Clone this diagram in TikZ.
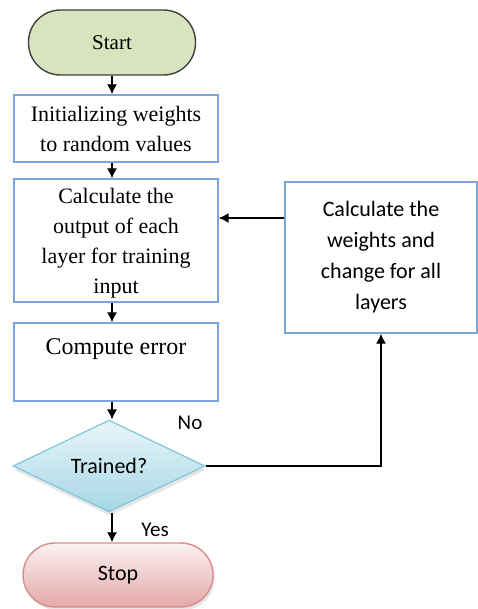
\documentclass[tikz,border=0pt]{standalone}
\usepackage{fontspec}
\setmainfont{Liberation Serif}
\newfontfamily\calib{Carlito}
\usetikzlibrary{shapes.geometric,arrows.meta,shadows}
\definecolor{boxblue}{HTML}{7AA6DA}
\definecolor{startgreen}{HTML}{D7E4BD}
\definecolor{decline}{HTML}{7FC6D8}
\definecolor{stopline}{HTML}{D98C8C}
\definecolor{stopfill}{HTML}{E4A8A8}
\definecolor{decfill}{HTML}{A6D7E5}
\begin{document}
\begin{tikzpicture}[x=1pt,y=-1pt,
    stepbox/.style={draw=boxblue, line width=1.4pt, fill=white, align=center,
        inner sep=0pt, font=\fontsize{22}{30}\selectfont},
    terminal/.style={rounded corners=32pt, line width=1.4pt, inner sep=0pt},
    arr/.style={line width=1.3pt, -{Latex[length=10pt,width=10pt]}},
    lbl/.style={font=\calib\fontsize{21}{25}\selectfont}]
            \useasboundingbox (0,0) rectangle (478,609);

            \node[terminal, draw=black!75, fill=startgreen, minimum width=167pt, minimum height=65pt,
                font=\fontsize{21}{25}\selectfont] (start) at (112,42.5) {Start};
            \node[stepbox, minimum width=204pt, minimum height=67pt, text depth=-6pt] (init) at (116,128.5)
                {Initializing weights\\to random values};
            \node[stepbox, minimum width=204pt, minimum height=123pt, text depth=-12pt] (calc) at (116,240.5)
                {Calculate the\\output of each\\layer for training\\input};
            \node[stepbox, minimum width=204pt, minimum height=78pt, text depth=30pt,
                font=\fontsize{24}{30}\selectfont] (comp) at (116,362) {Compute error};
            \node[diamond, draw=decline, line width=1.2pt, top color=decfill!25, bottom color=decfill,
                drop shadow={opacity=0.2, shadow xshift=1pt, shadow yshift=-4pt},
                minimum width=192pt, minimum height=88pt, inner sep=0pt,
                font=\calib\fontsize{22}{26}\selectfont] (dec) at (109,466) {Trained?};
            \node[terminal, draw=stopline, top color=stopfill!15, bottom color=stopfill,
                drop shadow={opacity=0.2, shadow xshift=2pt, shadow yshift=-3pt},
                minimum width=190pt, minimum height=64pt,
                font=\calib\fontsize{22}{26}\selectfont] (stop) at (118,575) {Stop};
            \node[stepbox, minimum width=192pt, minimum height=151pt,
                font=\calib\fontsize{22}{31}\selectfont] (upd) at (381,257.5)
                {Calculate the\\weights and\\change for all\\layers};

            \node[lbl] (no) at (190,423) {No};
            \node[lbl] (yes) at (155,530) {Yes};

            \draw[arr] (start.south) -- (start.south |- init.north);
            \draw[arr] (init.south -| start) -- (calc.north -| start);
            \draw[arr] (calc.south -| start) -- (comp.north -| start);
            \draw[arr] (comp.south -| start) -- (dec.north -| start);
            \draw[arr] (dec.south -| start) -- (stop.north -| start);
            \draw[arr] (dec.east) -| (upd.south);
            \draw[arr] (upd.west |- 0,218) -- (calc.east |- 0,218);
        \end{tikzpicture}
\end{document}
